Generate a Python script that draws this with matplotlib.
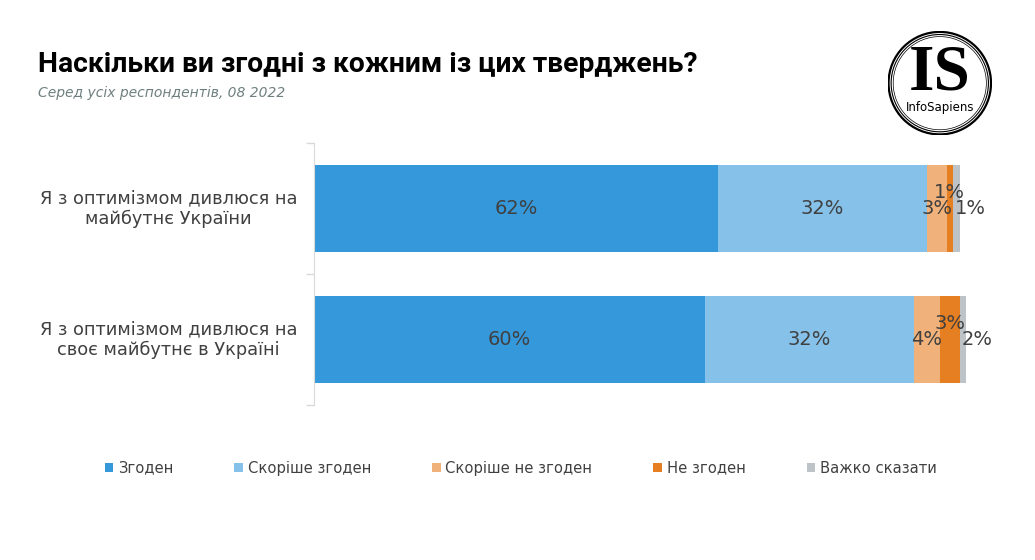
import matplotlib
matplotlib.use("Agg")
import matplotlib.pyplot as plt
from matplotlib.patches import Patch, Circle
import matplotlib.transforms as mtransforms

# data
questions = ["Я з оптимізмом дивлюся на\nмайбутнє України",
             "Я з оптимізмом дивлюся на\nсвоє майбутнє в Україні"]
answers = ["Згоден", "Скоріше згоден", "Скоріше не згоден", "Не згоден", "Важко сказати"]
agree = [62, 60]
rather_agree = [32, 32]
rather_disagree = [3, 4]
disagree = [1, 3]
hard_to_say = [1, 2]

series = [agree, rather_agree, rather_disagree, disagree, hard_to_say]
colors = ["#3498DB", "#85C1E9", "#F0B27A", "#E67E22", "#BDC3C7"]
txt_color = "#404040"

plt.rcParams['font.family'] = ['DejaVu Sans']

fig = plt.figure(figsize=(10.35, 5.6), dpi=100)
ax = fig.add_axes([0.3034, 0.2768, 0.63, 0.4679])

ypos = list(range(len(questions)))
left = [0, 0]
for i, vals in enumerate(series):
    ax.barh(ypos, vals, left=left, height=0.664, color=colors[i], linewidth=0)
    for j, v in enumerate(vals):
        cx = left[j] + v / 2
        cy = ypos[j]
        ha = "center"
        if i == 3:          # "Не згоден" label is lifted above the others
            cy = ypos[j] - 0.12
        if i == 4:          # last label pushed to the right of its segment
            cx = left[j] + 0.3
            ha = "left"
        ax.text(cx, cy, f"{v}%", ha=ha, va="center", fontsize=14, color=txt_color)
    left = [l + v for l, v in zip(left, vals)]

ax.set_xlim(0, 100)
ax.set_ylim(1.5, -0.5)
ax.set_xticks([])
ax.set_yticks([-0.5, 0.5, 1.5])
ax.set_yticklabels([])
ax.tick_params(axis="y", length=6, color="#d9d9d9", width=1)
for s in ["top", "right", "bottom"]:
    ax.spines[s].set_visible(False)
ax.spines["left"].set_color("#d9d9d9")

trans = mtransforms.blended_transform_factory(ax.transAxes, ax.transData)
for j, q in enumerate(questions):
    ax.text(-0.223, ypos[j], q, transform=trans, ha="center", va="center",
            fontsize=12.8, color=txt_color, linespacing=1.2)

# title and subtitle
fig.text(0.037, 0.884, "Наскільки ви згодні з кожним із цих тверджень?",
         fontsize=20.3, fontweight="bold", family="Roboto", color="black", va="center")
fig.text(0.037, 0.834, "Серед усіх респондентів, 08 2022",
         fontsize=10, style="italic", color="#6F7F7F", va="center")

# legend
handles = [Patch(facecolor=c, edgecolor="none") for c in colors]
fig.legend(handles, answers, loc="center", bbox_to_anchor=(0.503, 0.164), ncol=5,
           frameon=False, fontsize=10.6, handlelength=0.6, handleheight=0.6,
           handletextpad=0.3, columnspacing=4.15, labelcolor=txt_color)

# logo
lax = fig.add_axes([0.858, 0.759, 0.1, 0.185])
lax.set_xlim(-1, 1)
lax.set_ylim(-1, 1)
lax.set_aspect("equal")
lax.axis("off")
for r, lw in [(0.99, 1.6), (0.94, 0.8), (0.90, 0.5)]:
    lax.add_patch(Circle((0, 0), r, fill=False, edgecolor="black", linewidth=lw))
lax.text(0, -0.13, "IS", ha="center", va="baseline", fontsize=47, fontweight="bold",
         family="Liberation Serif", color="black")
lax.text(0, -0.48, "InfoSapiens", ha="center", va="center", fontsize=8.5, color="black")

fig.savefig("out.png", dpi=100, facecolor="white")
